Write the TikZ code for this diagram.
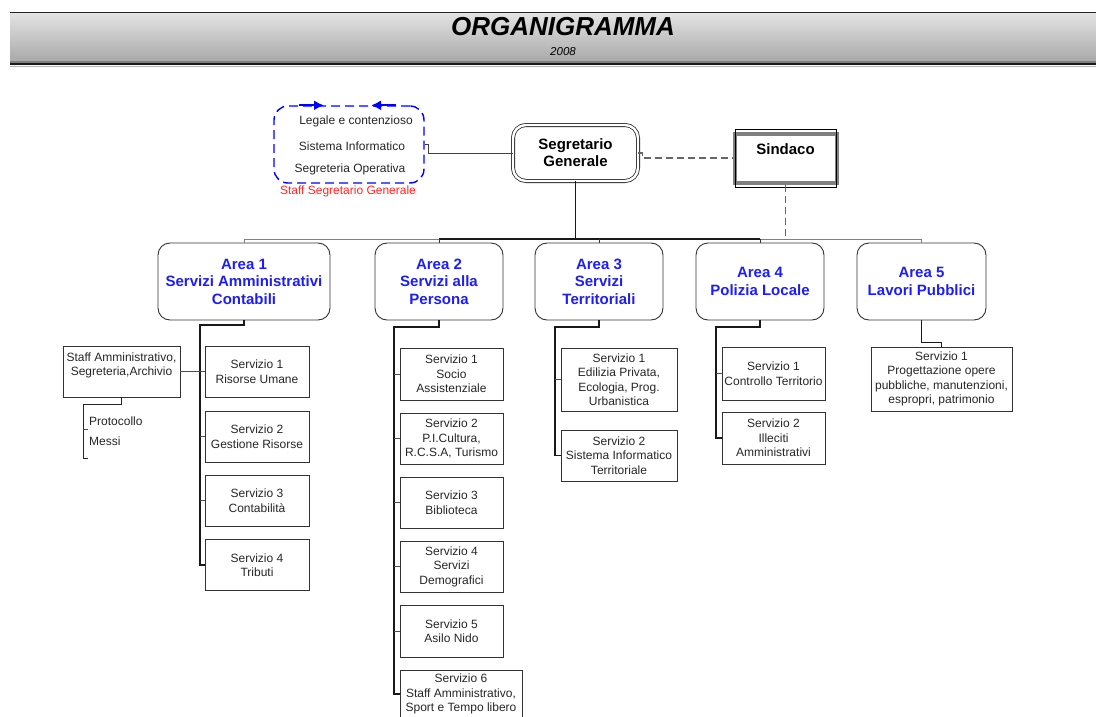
\documentclass[tikz,border=0pt]{standalone}
\usepackage{fontspec}
\setmainfont{Liberation Sans}
\usepackage{xcolor}
\usepackage{tikz}
\usetikzlibrary{calc}
\usetikzlibrary{arrows,arrows.meta,positioning}

\definecolor{areablue}{RGB}{30,30,240}
\definecolor{staffred}{RGB}{255,40,40}

\tikzset{
  servbox/.style={draw=black!80,line width=0.8pt,rectangle,align=center,inner sep=1pt,
    font=\fontsize{12}{14.5}\selectfont,text=black!85},
  areabox/.style={draw=black!80,line width=0.9pt,rounded corners=12pt,align=center,inner sep=1pt,
    minimum height=77pt,text=areablue,font=\fontsize{15}{17.5}\selectfont\bfseries},
  trunk/.style={line width=1.3pt,black!90},
  tick/.style={line width=0.7pt,black!70},
  plain/.style={font=\fontsize{12}{14}\selectfont,text=black!85,inner sep=1pt},
  staffarrow/.style={-{Latex[length=10pt,width=10pt]},blue,line width=2pt}
}

\begin{document}
\begin{tikzpicture}[x=1pt,y=-1pt]
	\useasboundingbox (0,0) rectangle (1096,717);
	% intestazione
	\shade[top color=gray!22,bottom color=gray!68] (10,13) rectangle (1096,62);
	\draw[line width=1.5pt,black!85] (10,12.5) -- (1096,12.5);
	\draw[line width=1.5pt,gray] (10,62) -- (1096,62);
	\draw[line width=2pt,black!90] (10,64.5) -- (1096,64.5);
	\draw[line width=1pt,gray!60] (10,66.5) -- (1096,66.5);
	\node (title) at (563,27) {\fontsize{26}{28}\selectfont\bfseries\itshape ORGANIGRAMMA};
	\node (year) at (563,52) {\fontsize{11.5}{13}\selectfont\itshape 2008};

	% vertice
	\node[draw=black!85,double,double distance=2.4pt,line width=0.8pt,rounded corners=13pt,
	  minimum width=125pt,minimum height=56pt,align=center,
	  font=\fontsize{15}{17}\selectfont\bfseries] (seg) at (575.5,153) {Segretario\\Generale};
	\node[draw=black!50,line width=4pt,minimum width=102pt,minimum height=49pt,align=center,
	  font=\fontsize{15}{17}\selectfont\bfseries] (sin) at (785.5,158) {Sindaco\\ \mbox{}};
	\draw[line width=0.7pt] ($(sin.north west)+(2.6,-2.6)$) rectangle ($(sin.south east)+(-2.6,2.6)$);

	% staff del segretario
	\node[draw=blue,dashed,dash pattern=on 9pt off 5pt,line width=1.4pt,rounded corners=14pt,
	  minimum width=150pt,minimum height=77pt] (stf) at (349,144.5) {};
	\node[plain] (leg) at (356,121) {Legale e contenzioso};
	\node[plain] (sis) at (352,146) {Sistema Informatico};
	\node[plain] (sop) at (350,169) {Segreteria Operativa};
	\node[plain,text=staffred] (stfl) at (348,191) {Staff Segretario Generale};
	\draw[staffarrow] ($(stf.north)+(-50,0)$) -- ($(stf.north)+(-25,0)$);
	\draw[staffarrow] ($(stf.north)+(47,0)$) -- ($(stf.north)+(22,0)$);

	\draw[line width=0.9pt,black!75] (stf.east) -- ++(4,0) |- (seg.west);
	\draw[line width=1.2pt,dashed,dash pattern=on 7pt off 4pt,black!60] (seg.east) -- ++(4,0) |- (sin.west);

	% aree
	\node[areabox,minimum width=172pt] (a1) at (244,281.5) {Area 1\\Servizi Amministrativi\\Contabili};
	\node[areabox,minimum width=128pt] (a2) at (439,281.5) {Area 2\\Servizi alla\\Persona};
	\node[areabox,minimum width=128pt] (a3) at (599,281.5) {Area 3\\Servizi\\Territoriali};
	\node[areabox,minimum width=128pt] (a4) at (760,281.5) {Area 4\\Polizia Locale};
	\node[areabox,minimum width=129pt] (a5) at (921.5,281.5) {Area 5\\Lavori Pubblici};

	\coordinate (bus) at (0,239);
	\draw[line width=1pt,gray] (a1.north) -- (a1.north |- bus) -- (a5.north |- bus) -- (a5.north);
	\draw[trunk] (a2.north |- bus) -- (a4.north |- bus);
	\foreach \a in {a2,a3,a4}
		\draw[line width=1pt,black!80] (\a.north) -- (\a.north |- bus);
	\draw[trunk] (seg.south) -- (seg.south |- bus);
	\draw[line width=1.2pt,dashed,dash pattern=on 7pt off 4pt,black!60] (sin.south) -- (sin.south |- bus);

	% area 1
	\node[servbox,minimum width=104pt,minimum height=51pt] (a1s1) at (257,371.5) {Servizio 1\\Risorse Umane};
	\node[servbox,minimum width=104pt,minimum height=51pt] (a1s2) at (257,436.5) {Servizio 2\\Gestione Risorse};
	\node[servbox,minimum width=104pt,minimum height=51pt] (a1s3) at (257,500.5) {Servizio 3\\Contabilità};
	\node[servbox,minimum width=104pt,minimum height=51pt] (a1s4) at (257,565) {Servizio 4\\Tributi};
	\node[servbox,minimum width=117pt,minimum height=51pt] (a1st) at (121.5,371.5) {Staff Amministrativo,\\Segreteria,Archivio\\ \mbox{}};
	\node[plain,anchor=west] (prot) at (88,421) {Protocollo};
	\node[plain,anchor=west] (mes) at (88,441) {Messi};
	\coordinate (t1) at (200,325);
	\draw[trunk] (a1.south) |- (t1) |- (a1s4.west);
	\foreach \s in {1,2,3}
		\draw[tick] (a1s\s.west) -- (a1s\s.west -| t1);
	\draw[tick] (a1st.east) -- (a1st.east -| t1);
	\coordinate (b1) at (83,404);
	\draw[line width=1pt,black!85] (a1st.south) |- (b1) -- (b1 |- 0,458) -- ++(5,0);
	\draw[tick] (b1 |- 0,429) -- ++(5,0);

	% area 2
	\node[servbox,minimum width=103pt,minimum height=52pt] (a2s1) at (451.5,374) {Servizio 1\\Socio\\Assistenziale};
	\node[servbox,minimum width=103pt,minimum height=51pt] (a2s2) at (451.5,438.5) {Servizio 2\\P.I.Cultura,\\R.C.S.A, Turismo};
	\node[servbox,minimum width=103pt,minimum height=51pt] (a2s3) at (451.5,502.5) {Servizio 3\\Biblioteca};
	\node[servbox,minimum width=103pt,minimum height=51pt] (a2s4) at (451.5,566.5) {Servizio 4\\Servizi\\Demografici};
	\node[servbox,minimum width=103pt,minimum height=52pt] (a2s5) at (451.5,631) {Servizio 5\\Asilo Nido};
	\node[servbox,minimum width=122pt,minimum height=48pt] (a2s6) at (461,694) {Servizio 6\\Staff Amministrativo,\\Sport e Tempo libero};
	\coordinate (t2) at (394,327);
	\draw[trunk] (a2.south) |- (t2) |- (a2s6.west);
	\foreach \s in {1,...,5}
		\draw[tick] (a2s\s.west) -- (a2s\s.west -| t2);

	% area 3
	\node[servbox,minimum width=116pt,minimum height=63pt] (a3s1) at (619,379.5) {Servizio 1\\Edilizia Privata,\\Ecologia, Prog.\\Urbanistica};
	\node[servbox,minimum width=116pt,minimum height=51pt] (a3s2) at (619,455.5) {Servizio 2\\Sistema Informatico\\Territoriale};
	\coordinate (t3) at (555,327);
	\draw[trunk] (a3.south) |- (t3) |- (a3s2.west);
	\draw[tick] (a3s1.west) -- (a3s1.west -| t3);

	% area 4
	\node[servbox,minimum width=103pt,minimum height=53pt] (a4s1) at (773.5,373.5) {Servizio 1\\Controllo Territorio};
	\node[servbox,minimum width=103pt,minimum height=52pt] (a4s2) at (773.5,438) {Servizio 2\\Illeciti\\Amministrativi};
	\coordinate (t4) at (716,327);
	\draw[trunk] (a4.south) |- (t4) |- (a4s2.west);
	\draw[tick] (a4s1.west) -- (a4s1.west -| t4);

	% area 5
	\node[servbox,minimum width=141pt,minimum height=64pt] (a5s1) at (941.5,379) {Servizio 1\\Progettazione opere\\pubbliche, manutenzioni,\\espropri, patrimonio};
	\draw[trunk] (a5.south) -- ++(0,22) -| (a5s1.north);
\end{tikzpicture}
\end{document}
